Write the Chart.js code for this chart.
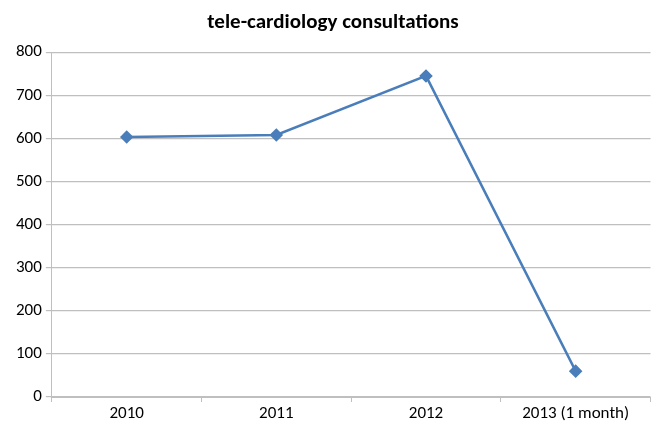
<!DOCTYPE html>
<html>
<head>
<meta charset="utf-8">
<script src="https://cdn.jsdelivr.net/npm/chart.js@4"></script>
<style>
  html, body { margin: 0; padding: 0; background: #fff; }
  #wrap { width: 658px; height: 425px; }
</style>
</head>
<body>
<div id="wrap"><canvas id="chart"></canvas></div>
<script>
const years = ['2010', '2011', '2012', '2013 (1 month)'];
const consultations = [603, 608, 745, 60];
const yTicks = [0, 100, 200, 300, 400, 500, 600, 700, 800];

const font = 'Carlito, Calibri, Lato, sans-serif';

const ctx = document.getElementById('chart').getContext('2d');
new Chart(ctx, {
    type: 'line',
    data: {
        labels: years,
        datasets: [{
            label: 'tele-cardiology consultations',
            data: consultations,
            borderColor: '#4a7ebb',
            backgroundColor: '#4a7ebb',
            borderWidth: 2.5,
            pointStyle: 'rectRot',
            pointRadius: 5,
            pointHoverRadius: 5,
            tension: 0,
            fill: false,
        }]
    },
    options: {
        responsive: true,
        maintainAspectRatio: false,
        animation: false,
        layout: { padding: { top: 10, right: 4, bottom: 0, left: 12 } },
        plugins: {
            legend: { display: false },
            tooltip: { enabled: false },
            title: {
                display: true,
                text: 'tele-cardiology consultations',
                color: '#000',
                font: { family: font, size: 21, weight: 'bold' },
                padding: { top: 0, bottom: 17 }
            }
        },
        scales: {
            x: {
                offset: true,
                grid: {
                    display: true,
                    offset: true,
                    drawOnChartArea: false,
                    drawTicks: true,
                    tickLength: 5,
                    color: '#bfbfbf'
                },
                border: { color: '#bfbfbf', width: 1 },
                ticks: {
                    color: '#000',
                    font: { family: font, size: 17, lineHeight: 1.0 },
                    padding: 3,
                    maxRotation: 0,
                    autoSkip: false
                }
            },
            y: {
                min: 0,
                max: 800,
                afterBuildTicks: axis => { axis.ticks = yTicks.map(v => ({ value: v })); },
                grid: {
                    color: '#bfbfbf',
                    lineWidth: 1.2,
                    tickLength: 6
                },
                border: { color: '#bfbfbf', width: 1 },
                ticks: {
                    color: '#000',
                    font: { family: font, size: 17 },
                    padding: 4
                }
            }
        }
    }
});
</script>
</body>
</html>
